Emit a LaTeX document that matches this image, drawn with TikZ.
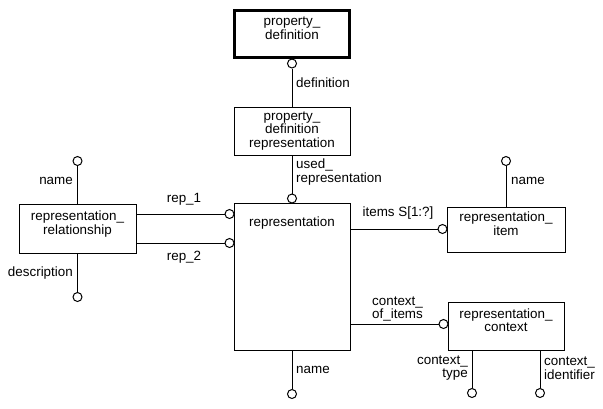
\documentclass[tikz,border=0pt]{standalone}
\usepackage{fontspec}
\setmainfont{Liberation Sans}
\usetikzlibrary{positioning}

\begin{document}
\begin{tikzpicture}[x=1pt,y=-1pt,
                every node/.append style = {font=\fontsize{13.4}{13.5}\selectfont},
                entity/.style = {draw, line width=1pt, align=center, inner sep=1pt, minimum width=116pt, minimum height=48pt},
                ring/.style = {draw, circle, fill=white, line width=1pt, inner sep=0pt, minimum size=9pt},
                role/.style = {inner sep=0pt}]
            \useasboundingbox (0,0) rectangle (603,408);
            % entities
            \node[entity, line width=3.5pt, minimum width=115pt, minimum height=47pt] (pdef) at (292,34) {property\_\\definition\\[-2pt]};
            \node[entity] (pdrep) at (292,131) {property\_\\definition\\representation};
            \node[entity, minimum height=147pt] (rep) at (292,276.5) {};
            \node[role] (reptext) at (292,223) {representation};
            \node[entity, minimum width=117pt, minimum height=49pt] (rrel) at (77.5,228.5) {representation\_\\relationship\\[-2pt]};
            \node[entity, minimum width=118pt, minimum height=45pt] (ritem) at (506,229.5) {representation\_\\item\\[-2pt]};
            \node[entity] (rctx) at (506,326) {representation\_\\context\\[-2pt]};
            % relationship ends
            \node[ring] (cdef) at (292,63.5) {};
            \node[ring] (cused) at (292,198.5) {};
            \node[ring] (crepa) at (229.5,214) {};
            \node[ring] (crepb) at (229.5,243) {};
            \node[ring] (citems) at (442.5,229) {};
            \node[ring] (cctx) at (443.5,324) {};
            % attribute ends
            \node[ring] (rrname) at (77.5,161) {};
            \node[ring] (rrdesc) at (77.5,297) {};
            \node[ring] (repname) at (292,394) {};
            \node[ring] (riname) at (506,161) {};
            \node[ring] (ctxtype) at (472,393) {};
            \node[ring] (ctxid) at (540,393) {};
            % connectors
            \draw (cdef) -- (pdrep);
            \draw (pdrep) -- (cused);
            \draw (rrel.east |- crepa) -- (crepa);
            \draw (rrel.east |- crepb) -- (crepb);
            \draw (rep.east |- citems) -- (citems);
            \draw (rep.east |- cctx) -- (cctx);
            \draw (rrel) -- (rrname);
            \draw (rrel) -- (rrdesc);
            \draw (rep) -- (repname);
            \draw (ritem) -- (riname);
            \draw (rctx.south -| ctxtype) -- (ctxtype);
            \draw (rctx.south -| ctxid) -- (ctxid);
            % labels
            \node[role, anchor=west] at (296,83) {definition};
            \node[role, anchor=west, align=left] at (296,172) {used\_\\representation};
            \node[role, anchor=west] at (296,370) {name};
            \node[role, anchor=east] at (73,181) {name};
            \node[role, anchor=east] at (73,273) {description};
            \node[role] at (184,199) {rep\_1};
            \node[role] at (184,257) {rep\_2};
            \node[role] at (398,213) {items S[1:?]};
            \node[role, anchor=west] at (511,181) {name};
            \node[role, anchor=west, align=left] at (372,309) {context\_\\of\_items};
            \node[role, anchor=east, align=right] at (468,368) {context\_\\type};
            \node[role, anchor=west, align=left] at (544,368) {context\_\\identifier};
            \end{tikzpicture}
\end{document}
